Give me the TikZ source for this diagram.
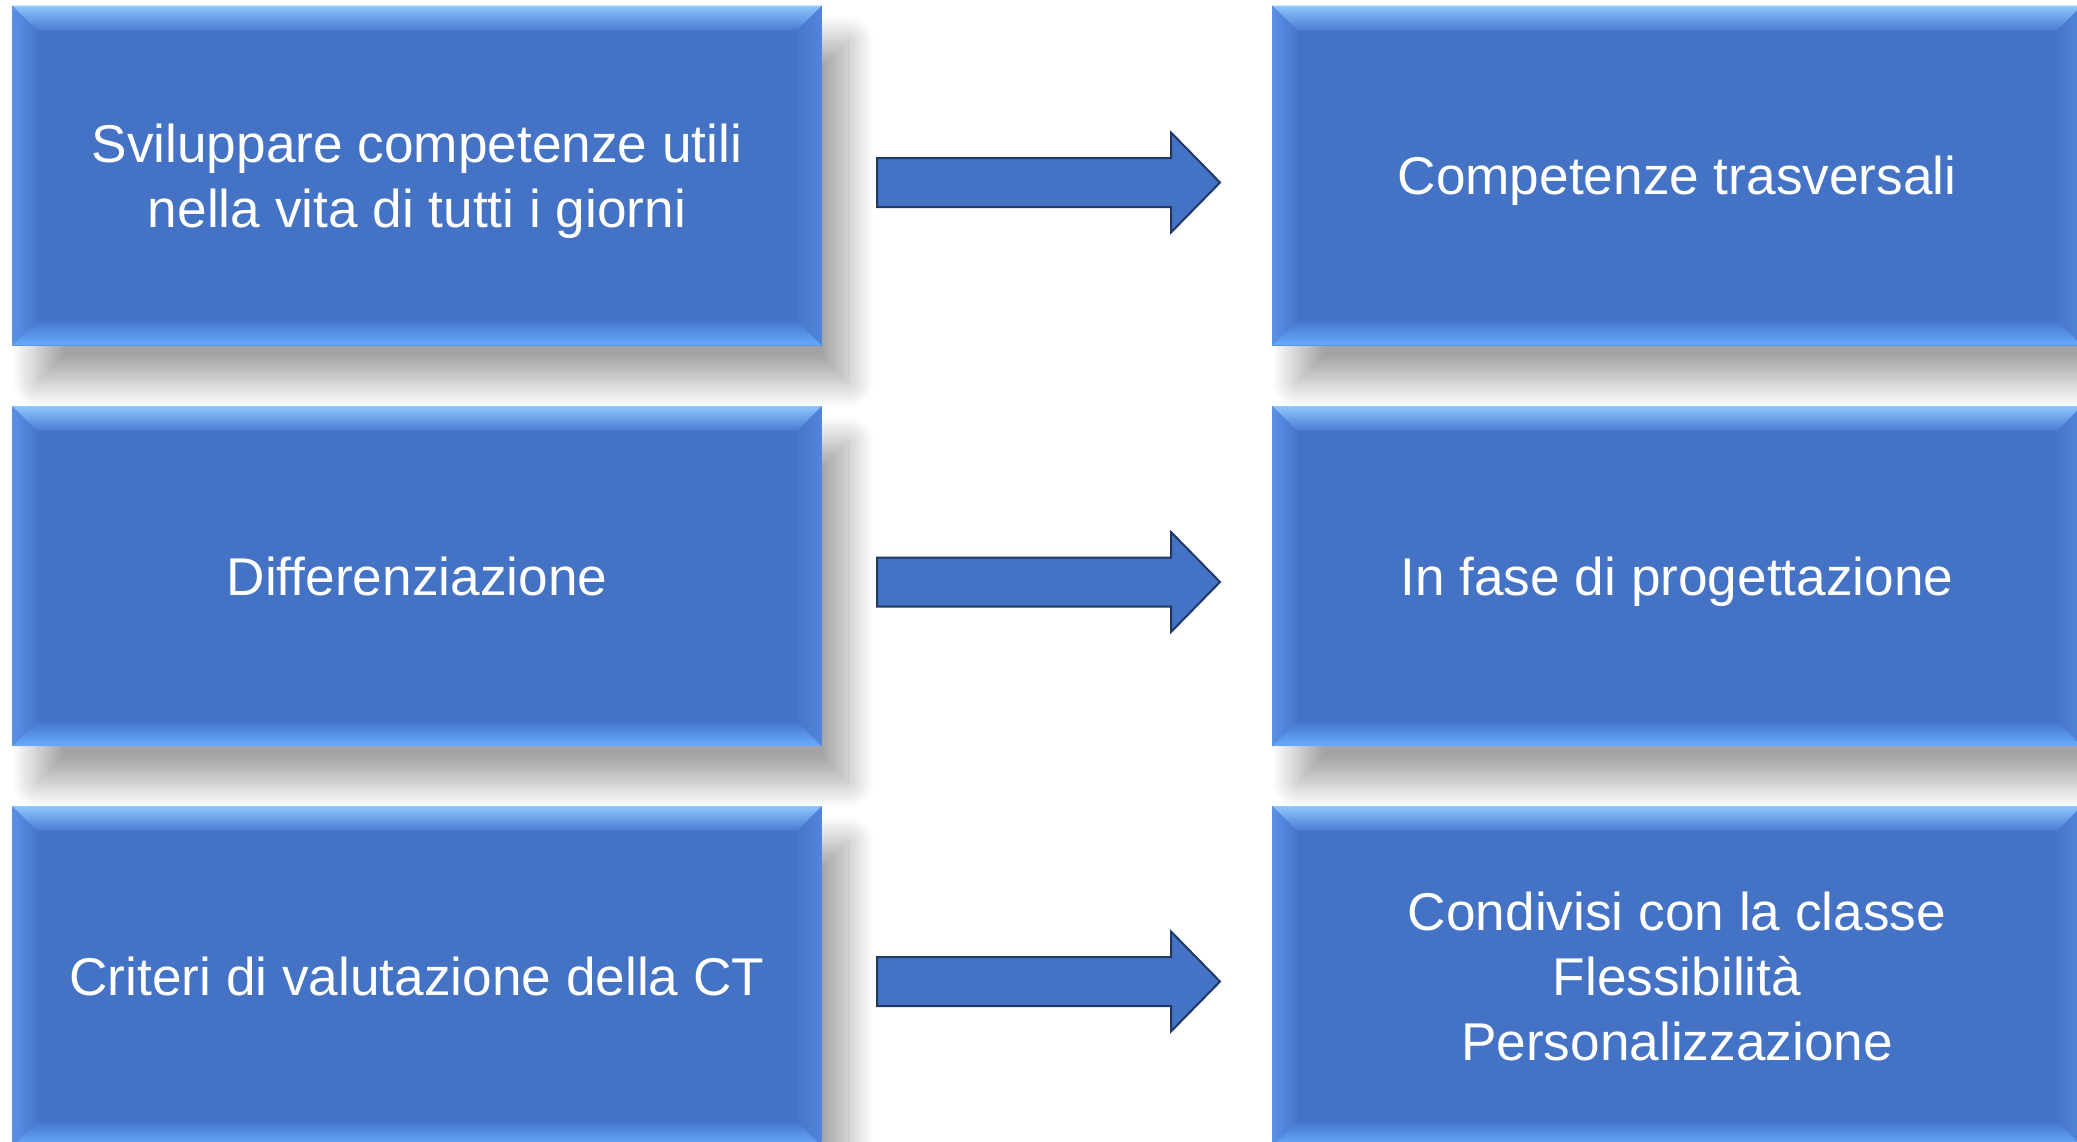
\documentclass[tikz,border=0pt]{standalone}
\usepackage{fontspec}
\setmainfont{Liberation Sans}
\usetikzlibrary{shadows.blur,calc}
\definecolor{boxblue}{HTML}{4472C4}
\definecolor{toplight}{HTML}{8CC8FF}
\definecolor{topdark}{HTML}{4A7AD2}
\definecolor{botlight}{HTML}{68AAFF}
\definecolor{botdark}{HTML}{4676CC}
\definecolor{sideout}{HTML}{5A92E6}
\definecolor{sidein}{HTML}{4776CB}
\definecolor{rightout}{HTML}{5286DA}
\definecolor{arrowedge}{HTML}{1F3864}
\tikzset{
  bevelbox/.style={rectangle, inner sep=0pt, outer sep=0pt,
    minimum width=405pt, minimum height=170pt, fill=boxblue,
    blur shadow={shadow xshift=13pt, shadow yshift=-18pt,
      shadow blur radius=13pt, shadow blur steps=30, shadow opacity=36},
    path picture={
      \coordinate (pnw) at (path picture bounding box.north west);
      \coordinate (pne) at (path picture bounding box.north east);
      \coordinate (psw) at (path picture bounding box.south west);
      \coordinate (pse) at (path picture bounding box.south east);
      \shade[top color=toplight, bottom color=topdark]
        (pnw) -- (pne) -- ($(pne)+(-25,25)$) -- ($(pnw)+(25,25)$) -- cycle;
      \shade[top color=botdark, bottom color=botlight]
        (psw) -- (pse) -- ($(pse)+(-25,-25)$) -- ($(psw)+(25,-25)$) -- cycle;
      \shade[left color=sideout, right color=sidein]
        (pnw) -- ($(pnw)+(25,25)$) -- ($(psw)+(25,-25)$) -- (psw) -- cycle;
      \shade[left color=sidein, right color=rightout]
        (pne) -- ($(pne)+(-25,25)$) -- ($(pse)+(-25,-25)$) -- (pse) -- cycle;
    }},
  boxtext/.style={text=white, align=center, inner sep=0pt, text depth=0pt,
    font=\fontsize{26.6}{32.5}\selectfont},
  blockarrow/.style={fill=boxblue, draw=arrowedge, line width=1pt, line join=miter}
}
\begin{document}
\begin{tikzpicture}[x=0.5pt,y=-0.5pt]
\useasboundingbox (0,0) rectangle (2077,1141);
\node[bevelbox] (l1) at (417,175.5) {};
\node[boxtext] (tl1) at (l1.center) {Sviluppare competenze utili\\nella vita di tutti i giorni};
\node[bevelbox] (l2) at (417,576) {};
\node[boxtext] (tl2) at (l2.center) {Differenziazione};
\node[bevelbox] (l3) at (417,976) {};
\node[boxtext] (tl3) at (l3.center) {Criteri di valutazione della CT};
\node[bevelbox] (r1) at (1677,175.5) {};
\node[boxtext] (tr1) at (r1.center) {Competenze trasversali};
\node[bevelbox] (r2) at (1677,576) {};
\node[boxtext] (tr2) at (r2.center) {In fase di progettazione};
\node[bevelbox] (r3) at (1677,976) {};
\node[boxtext] (tr3) at (r3.center) {Condivisi con la classe\\Flessibilità\\Personalizzazione};
\coordinate (ar1) at (877,182.5);
\coordinate (ar2) at (877,582);
\coordinate (ar3) at (877,981.5);
\foreach \a in {ar1,ar2,ar3}{
  \draw[blockarrow] (\a) ++(0,-24.5) -- ++(294,0) -- ++(0,-25.5) -- ++(49,50)
    -- ++(-49,50) -- ++(0,-25.5) -- ++(-294,0) -- cycle;
}
\end{tikzpicture}
\end{document}
